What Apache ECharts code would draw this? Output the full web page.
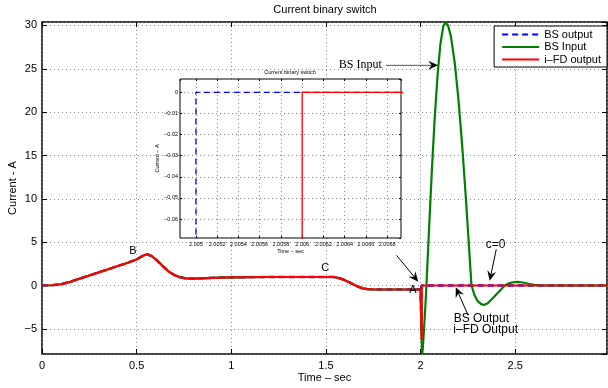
<!DOCTYPE html>
<html><head><meta charset="utf-8">
<script src="https://cdn.jsdelivr.net/npm/echarts@6/dist/echarts.min.js"></script>
<style>html,body{margin:0;padding:0;background:#fff}#c{width:608px;height:388px}</style>
</head><body><div id="c"></div>
<script>
// ---- data ----
const seriesNames = ['BS output', 'BS Input', 'i\u2013FD output'];
// shared current before the switching instant (all three coincide)
const baseTime = [0, 0.05, 0.1, 0.15, 0.2, 0.25, 0.3, 0.35, 0.4, 0.45, 0.5, 0.53, 0.555, 0.58, 0.61, 0.64, 0.67, 0.7, 0.73, 0.76, 0.8, 0.9, 1.0, 1.2, 1.4, 1.54, 1.57, 1.6, 1.63, 1.66, 1.69, 1.72, 1.76, 1.9, 2.0];
const baseCurrent = [0, 0.03, 0.15, 0.42, 0.8, 1.16, 1.52, 1.88, 2.25, 2.6, 3.0, 3.4, 3.6, 3.4, 2.85, 2.2, 1.6, 1.2, 0.95, 0.82, 0.8, 0.88, 0.95, 0.98, 0.98, 0.98, 0.85, 0.62, 0.3, -0.02, -0.3, -0.42, -0.46, -0.46, -0.46];
// BS input after t = 2
const inputTimeAfter = [2.002, 2.004, 2.005, 2.006, 2.008, 2.011, 2.015, 2.02, 2.025, 2.031, 2.038, 2.045, 2.06, 2.075, 2.09, 2.105, 2.12, 2.131, 2.145, 2.16, 2.18, 2.2, 2.22, 2.24, 2.255, 2.269, 2.285, 2.3, 2.32, 2.335, 2.355, 2.38, 2.41, 2.445, 2.47, 2.49, 2.513, 2.54, 2.57, 2.6, 2.63, 2.7, 2.985];
const inputCurrentAfter = [-2.3, -4.4, -5.4, -6.3, -7.85, -7.5, -6.2, -4.4, -2.5, 0, 3.3, 6.6, 13.4, 19.4, 24.3, 27.9, 29.9, 30.35, 30.0, 28.8, 25.8, 21.5, 16.1, 9.9, 4.8, 0, -1.1, -1.75, -2.15, -2.25, -2.05, -1.5, -0.8, 0, 0.28, 0.38, 0.42, 0.35, 0.2, 0.07, 0.02, 0, 0];
// BS output after t = 2 (switches to zero at 2.005 s)
const bsOutTimeAfter = [2.002, 2.004, 2.005, 2.005, 2.985];
const bsOutCurrentAfter = [-2.3, -4.4, -5.4, 0, 0];
// i-FD output after t = 2 (switches to zero at 2.006 s)
const fdOutTimeAfter = [2.002, 2.004, 2.005, 2.006, 2.006, 2.985];
const fdOutCurrentAfter = [-2.3, -4.4, -5.4, -6.3, 0, 0];

// annotations (data coordinates of the main axes)
const annoTexts = [
  {text: 'B', at: [0.48, 4.0], size: 11},
  {text: 'C', at: [1.496, 2.07], size: 11},
  {text: 'A', at: [1.96, -0.54], size: 11},
  {text: 'c=0', at: [2.397, 4.75], size: 12},
  {text: 'BS Output', at: [2.321, -3.87], size: 12},
  {text: 'i\u2013FD Output', at: [2.344, -5.14], size: 12},
  {text: 'BS Input', at: [1.682, 25.4], size: 12, serif: true}
];
const annoArrows = [
  {from: [1.873, 3.48], to: [1.988, 0.44], color: '#000'},
  {from: [2.40, 4.17], to: [2.365, 0.55], color: '#000'},
  {from: [2.251, -3.41], to: [2.186, -0.2], color: '#000'},
  {from: [1.816, 25.4], to: [2.093, 25.4], color: '#555'}
];

// ---- build ----
function pairs(ts, vs) { return ts.map((t, i) => [t, vs[i]]); }
const base = pairs(baseTime, baseCurrent);
const greenData = base.concat(pairs(inputTimeAfter, inputCurrentAfter));
const blueData = base.concat(pairs(bsOutTimeAfter, bsOutCurrentAfter));
const redData = base.concat(pairs(fdOutTimeAfter, fdOutCurrentAfter));

const FONT = 'Liberation Sans, Arial, Helvetica, sans-serif';
const minusFmt = v => String(v).replace('-', '\u2212');
const grid = {type: [1, 3], color: '#888', width: 1};

const chart = echarts.init(document.getElementById('c'), null, {renderer: 'canvas'});

function lineSeries(name, data, color, dashed, xi, yi, z, width) {
  return {
    name, type: 'line', data, xAxisIndex: xi, yAxisIndex: yi, z,
    symbol: 'none', showSymbol: false, clip: true, animation: false,
    lineStyle: {color, width: width, type: dashed ? [6, 4] : 'solid'},
    itemStyle: {color}
  };
}
const noLine = {show: false, onZero: false};

chart.setOption({
  animation: false,
  backgroundColor: '#fff',
  textStyle: {fontFamily: FONT},
  grid: [
    {left: 42, top: 22, right: 1, bottom: 34, show: true, borderColor: '#000', borderWidth: 1.5, backgroundColor: 'transparent', containLabel: false, outerBoundsMode: 'none'},
    {left: 180, top: 79, width: 221, height: 159, show: true, borderColor: '#000', borderWidth: 1, backgroundColor: '#fff', z: 10, containLabel: false, outerBoundsMode: 'none'}
  ],
  legend: {
    data: seriesNames, orient: 'vertical', right: 1, top: 26,
    itemWidth: 37, itemHeight: 10, itemGap: 1.5, padding: [3, 6, 2, 7],
    itemStyle: {opacity: 0},
    backgroundColor: '#fff', borderColor: '#000', borderWidth: 1, borderRadius: 0,
    textStyle: {fontSize: 11, color: '#000', fontFamily: FONT}, z: 20
  },
  xAxis: [
    {gridIndex: 0, type: 'value', min: 0, max: 2.985, interval: 0.5, position: 'bottom',
     axisLine: noLine, axisTick: {inside: true, length: 5, lineStyle: {color: '#000'}},
     axisLabel: {fontSize: 11, color: '#000', margin: 6, showMaxLabel: false, fontFamily: FONT},
     splitLine: {show: true, lineStyle: grid},
     name: 'Time \u2013 sec', nameLocation: 'middle', nameGap: 18, nameMoveOverlap: false,
     nameTextStyle: {fontSize: 11, color: '#000', fontFamily: FONT}},
    {gridIndex: 0, type: 'value', min: 0, max: 2.985, interval: 0.5, position: 'top',
     axisLine: noLine, axisTick: {inside: true, length: 5, lineStyle: {color: '#000'}},
     axisLabel: {show: false}, splitLine: {show: false}},
    {gridIndex: 1, type: 'value', min: 2.00485, max: 2.00693, splitNumber: 10, position: 'bottom', z: 11,
     axisLine: noLine, axisTick: {inside: true, length: 2, lineStyle: {color: '#000'}},
     axisLabel: {fontSize: 5.5, color: '#000', margin: 3, showMinLabel: false, showMaxLabel: false, fontFamily: FONT},
     splitLine: {show: true, lineStyle: grid},
     name: 'Time \u2013 sec', nameLocation: 'middle', nameGap: 10,
     nameTextStyle: {fontSize: 5.5, color: '#000', fontFamily: FONT}},
    {gridIndex: 1, type: 'value', min: 2.00485, max: 2.00693, splitNumber: 10, position: 'top', z: 11,
     axisLine: noLine, axisTick: {inside: true, length: 2, lineStyle: {color: '#000'}},
     axisLabel: {show: false}, splitLine: {show: false}}
  ],
  yAxis: [
    {gridIndex: 0, type: 'value', min: -7.9, max: 30.4, splitNumber: 8, position: 'left',
     axisLine: noLine, axisTick: {inside: true, length: 5, lineStyle: {color: '#000'}},
     axisLabel: {fontSize: 11, color: '#000', margin: 5, showMinLabel: false, showMaxLabel: false, formatter: minusFmt, fontFamily: FONT},
     splitLine: {show: true, lineStyle: grid},
     name: 'Current - A', nameLocation: 'middle', nameGap: 24, nameMoveOverlap: false,
     nameTextStyle: {fontSize: 11, color: '#000', fontFamily: FONT}},
    {gridIndex: 0, type: 'value', min: -7.9, max: 30.4, splitNumber: 8, position: 'right',
     axisLine: noLine, axisTick: {inside: true, length: 5, lineStyle: {color: '#000'}},
     axisLabel: {show: false}, splitLine: {show: false}},
    {gridIndex: 1, type: 'value', min: -0.069, max: 0.0063, splitNumber: 8, position: 'left', z: 11,
     axisLine: noLine, axisTick: {inside: true, length: 2, lineStyle: {color: '#000'}},
     axisLabel: {fontSize: 5.5, color: '#000', margin: 2, showMinLabel: false, showMaxLabel: false, formatter: minusFmt, fontFamily: FONT},
     splitLine: {show: true, lineStyle: grid},
     name: 'Current \u2013 A', nameLocation: 'middle', nameGap: 19,
     nameTextStyle: {fontSize: 5.5, color: '#000', fontFamily: FONT}},
    {gridIndex: 1, type: 'value', min: -0.069, max: 0.0063, splitNumber: 8, position: 'right', z: 11,
     axisLine: noLine, axisTick: {inside: true, length: 2, lineStyle: {color: '#000'}},
     axisLabel: {show: false}, splitLine: {show: false}}
  ],
  series: [
    lineSeries(seriesNames[0], blueData, '#0000ff', true, 0, 0, 2, 2.4),
    lineSeries(seriesNames[1], greenData, '#008000', false, 0, 0, 3, 2.2),
    lineSeries(seriesNames[2], redData, '#ff0000', false, 0, 0, 4, 2.2),
    lineSeries(seriesNames[0], blueData, '#0000ff', true, 2, 2, 12, 1.3),
    lineSeries(seriesNames[2], redData, '#ff0000', false, 2, 2, 13, 1.3)
  ]
});

// ---- annotations & titles ----
function px(p) { return chart.convertToPixel({gridIndex: 0}, p); }
function arrowEls(p0, p1, color) {
  const dx = p1[0] - p0[0], dy = p1[1] - p0[1], L = Math.hypot(dx, dy);
  const ux = dx / L, uy = dy / L, nx = -uy, ny = ux;
  const hl = 10, hw = 4.5;
  const bx = p1[0] - ux * hl, by = p1[1] - uy * hl;
  const notch = [p1[0] - ux * hl * 0.65, p1[1] - uy * hl * 0.65];
  return [
    {type: 'line', z: 30, shape: {x1: p0[0], y1: p0[1], x2: notch[0], y2: notch[1]}, style: {stroke: color, lineWidth: 1}},
    {type: 'polygon', z: 31, shape: {points: [[p1[0], p1[1]], [bx + nx * hw, by + ny * hw], notch, [bx - nx * hw, by - ny * hw]]}, style: {fill: '#000'}}
  ];
}
const g = [];
g.push({type: 'text', z: 30, x: 325, y: 10, style: {text: 'Current binary switch', fill: '#000', font: '11px ' + FONT, align: 'center', verticalAlign: 'middle'}});
g.push({type: 'text', z: 30, x: 290, y: 72, style: {text: 'Current binary switch', fill: '#000', font: '5.5px ' + FONT, align: 'center', verticalAlign: 'middle'}});
annoTexts.forEach(a => {
  const p = px(a.at);
  g.push({type: 'text', z: 30, x: p[0], y: p[1], style: {text: a.text, fill: '#000',
    font: a.size + 'px ' + (a.serif ? 'Liberation Serif, Times New Roman, serif' : FONT), align: 'center', verticalAlign: 'middle'}});
});
annoArrows.forEach(a => { arrowEls(px(a.from), px(a.to), a.color).forEach(e => g.push(e)); });
chart.setOption({graphic: g});
</script>
</body></html>
